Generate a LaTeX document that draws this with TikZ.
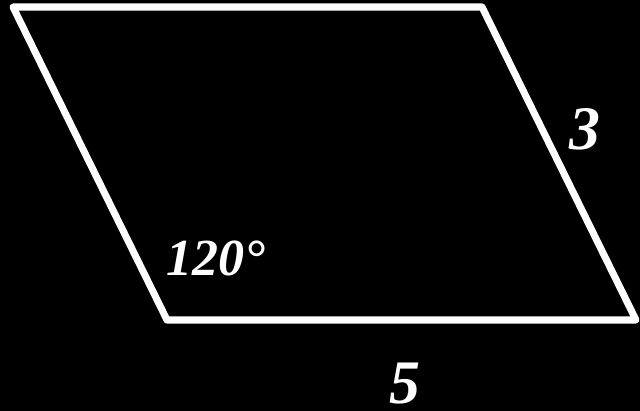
\documentclass[tikz,border=0pt]{standalone}
\usepackage{fontspec}
\setmainfont{Liberation Serif}
\usetikzlibrary{positioning,calc}

\begin{document}
\begin{tikzpicture}[
      x=0.025cm, y=-0.025cm,
      side/.style={draw=white, line width=5pt, line join=round},
      label/.style={text=white, font=\bfseries\itshape\fontsize{44}{44}\selectfont, inner sep=0pt},
      anglelabel/.style={label, font=\bfseries\itshape\fontsize{37}{37}\selectfont}
    ]
    \fill[black] (0,0) rectangle (640,411);
    \useasboundingbox (0,0) rectangle (640,411);

    \coordinate (tl) at (13,7);
    \coordinate (tr) at (482,7);
    \coordinate (br) at (636,320);
    \coordinate (bl) at (167,320);

    \draw[side] (tl) -- (tr) -- (br) -- (bl) -- cycle;

    \node[label] (sidea) at (585,129) {3};
    \node[label] (sideb) at (405,384) {5};
    \node[anglelabel] (angle) at (216,258) {120°};
  \end{tikzpicture}
\end{document}
